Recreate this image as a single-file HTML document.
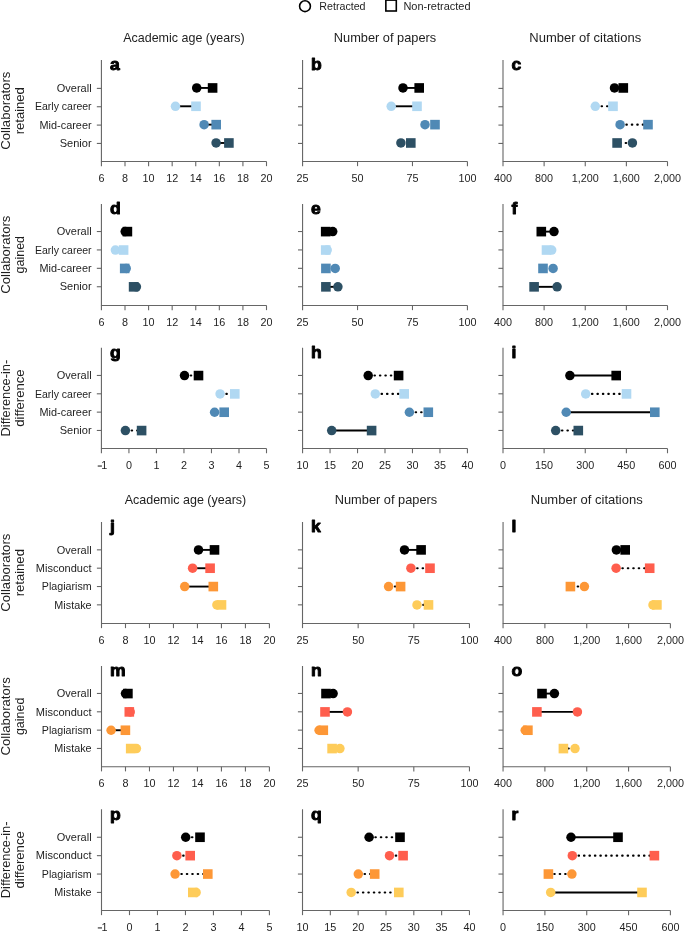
<!DOCTYPE html>
<html><head><meta charset="utf-8"><title>Figure</title>
<style>
html,body{margin:0;padding:0;background:#fff;}
body{width:685px;height:931px;overflow:hidden;}
svg{display:block;font-family:"Liberation Sans", sans-serif;-webkit-font-smoothing:antialiased;will-change:transform;}
</style></head>
<body>
<svg width="685" height="931" viewBox="0 0 685 931">
<rect width="685" height="931" fill="#fff"/>
<text transform="translate(10.2 110.72) rotate(-90)" text-anchor="middle" font-size="12.9" fill="#1e1e1e" textLength="78.22" lengthAdjust="spacingAndGlyphs">Collaborators</text>
<text transform="translate(24.2 110.72) rotate(-90)" text-anchor="middle" font-size="12.9" fill="#1e1e1e" textLength="47.22" lengthAdjust="spacingAndGlyphs">retained</text>
<text x="183.96" y="41.8" text-anchor="middle" font-size="12.6" fill="#1e1e1e" textLength="121.55" lengthAdjust="spacingAndGlyphs">Academic age (years)</text>
<text x="385" y="41.8" text-anchor="middle" font-size="12.6" fill="#1e1e1e" textLength="102.45" lengthAdjust="spacingAndGlyphs">Number of papers</text>
<text x="585.25" y="41.8" text-anchor="middle" font-size="12.6" fill="#1e1e1e" textLength="111.95" lengthAdjust="spacingAndGlyphs">Number of citations</text>
<path d="M101.42 60V161.45H266.5" fill="none" stroke="#666666" stroke-width="1.1"/>
<path d="M96.82 88.4H101.42" stroke="#666666" stroke-width="1.1"/>
<text x="91.6" y="92.1" text-anchor="end" font-size="10.6" fill="#1e1e1e" textLength="34.78" lengthAdjust="spacingAndGlyphs">Overall</text>
<path d="M96.82 106.74H101.42" stroke="#666666" stroke-width="1.1"/>
<text x="91.6" y="110.44" text-anchor="end" font-size="10.6" fill="#1e1e1e" textLength="56.64" lengthAdjust="spacingAndGlyphs">Early career</text>
<path d="M96.82 125.09H101.42" stroke="#666666" stroke-width="1.1"/>
<text x="91.6" y="128.79" text-anchor="end" font-size="10.6" fill="#1e1e1e" textLength="52.05" lengthAdjust="spacingAndGlyphs">Mid-career</text>
<path d="M96.82 143.43H101.42" stroke="#666666" stroke-width="1.1"/>
<text x="91.6" y="147.13" text-anchor="end" font-size="10.6" fill="#1e1e1e" textLength="31.84" lengthAdjust="spacingAndGlyphs">Senior</text>
<path d="M101.42 161.45V166.15" stroke="#666666" stroke-width="1.1"/>
<text x="101.42" y="181.75" text-anchor="middle" font-size="10.8" fill="#1e1e1e">6</text>
<path d="M125 161.45V166.15" stroke="#666666" stroke-width="1.1"/>
<text x="125" y="181.75" text-anchor="middle" font-size="10.8" fill="#1e1e1e">8</text>
<path d="M148.59 161.45V166.15" stroke="#666666" stroke-width="1.1"/>
<text x="148.59" y="181.75" text-anchor="middle" font-size="10.8" fill="#1e1e1e">10</text>
<path d="M172.17 161.45V166.15" stroke="#666666" stroke-width="1.1"/>
<text x="172.17" y="181.75" text-anchor="middle" font-size="10.8" fill="#1e1e1e">12</text>
<path d="M195.75 161.45V166.15" stroke="#666666" stroke-width="1.1"/>
<text x="195.75" y="181.75" text-anchor="middle" font-size="10.8" fill="#1e1e1e">14</text>
<path d="M219.33 161.45V166.15" stroke="#666666" stroke-width="1.1"/>
<text x="219.33" y="181.75" text-anchor="middle" font-size="10.8" fill="#1e1e1e">16</text>
<path d="M242.92 161.45V166.15" stroke="#666666" stroke-width="1.1"/>
<text x="242.92" y="181.75" text-anchor="middle" font-size="10.8" fill="#1e1e1e">18</text>
<path d="M266.5 161.45V166.15" stroke="#666666" stroke-width="1.1"/>
<text x="266.5" y="181.75" text-anchor="middle" font-size="10.8" fill="#1e1e1e">20</text>
<text transform="translate(109.92 70.4) scale(1.07 1)" font-size="16.4" font-weight="bold" fill="#000" stroke="#000" stroke-width="0.9" stroke-linejoin="round">a</text>
<path d="M196.7 87.95H212.6" stroke="#000" stroke-width="1.9"/>
<circle cx="196.7" cy="87.95" r="4.75" fill="#000000"/>
<rect x="207.8" y="83.15" width="9.6" height="9.6" fill="#000000"/>
<path d="M175.45 106.29H196" stroke="#000" stroke-width="1.9"/>
<circle cx="175.45" cy="106.29" r="4.75" fill="#b0d8f2"/>
<rect x="191.2" y="101.49" width="9.6" height="9.6" fill="#b0d8f2"/>
<path d="M204.1 124.64H216.2" stroke="#000" stroke-width="1.9"/>
<circle cx="204.1" cy="124.64" r="4.75" fill="#5089b5"/>
<rect x="211.4" y="119.84" width="9.6" height="9.6" fill="#5089b5"/>
<path d="M216.1 142.98H228.9" stroke="#000" stroke-width="1.9"/>
<circle cx="216.1" cy="142.98" r="4.75" fill="#2d5064"/>
<rect x="224.1" y="138.18" width="9.6" height="9.6" fill="#2d5064"/>
<path d="M302.57 60V161.45H467.44" fill="none" stroke="#666666" stroke-width="1.1"/>
<path d="M297.97 88.4H302.57" stroke="#666666" stroke-width="1.1"/>
<path d="M297.97 106.74H302.57" stroke="#666666" stroke-width="1.1"/>
<path d="M297.97 125.09H302.57" stroke="#666666" stroke-width="1.1"/>
<path d="M297.97 143.43H302.57" stroke="#666666" stroke-width="1.1"/>
<path d="M302.57 161.45V166.15" stroke="#666666" stroke-width="1.1"/>
<text x="302.57" y="181.75" text-anchor="middle" font-size="10.8" fill="#1e1e1e">25</text>
<path d="M357.53 161.45V166.15" stroke="#666666" stroke-width="1.1"/>
<text x="357.53" y="181.75" text-anchor="middle" font-size="10.8" fill="#1e1e1e">50</text>
<path d="M412.48 161.45V166.15" stroke="#666666" stroke-width="1.1"/>
<text x="412.48" y="181.75" text-anchor="middle" font-size="10.8" fill="#1e1e1e">75</text>
<path d="M467.44 161.45V166.15" stroke="#666666" stroke-width="1.1"/>
<text x="467.44" y="181.75" text-anchor="middle" font-size="10.8" fill="#1e1e1e">100</text>
<text transform="translate(311.07 70.4) scale(1.07 1)" font-size="16.4" font-weight="bold" fill="#000" stroke="#000" stroke-width="0.9" stroke-linejoin="round">b</text>
<path d="M403 87.95H419.2" stroke="#000" stroke-width="1.9"/>
<circle cx="403" cy="87.95" r="4.75" fill="#000000"/>
<rect x="414.4" y="83.15" width="9.6" height="9.6" fill="#000000"/>
<path d="M391.2 106.29H417" stroke="#000" stroke-width="1.9"/>
<circle cx="391.2" cy="106.29" r="4.75" fill="#b0d8f2"/>
<rect x="412.2" y="101.49" width="9.6" height="9.6" fill="#b0d8f2"/>
<circle cx="425" cy="124.64" r="4.75" fill="#5089b5"/>
<rect x="430.2" y="119.84" width="9.6" height="9.6" fill="#5089b5"/>
<circle cx="400.9" cy="142.98" r="4.75" fill="#2d5064"/>
<rect x="406" y="138.18" width="9.6" height="9.6" fill="#2d5064"/>
<path d="M503 60V161.45H667.5" fill="none" stroke="#666666" stroke-width="1.1"/>
<path d="M498.4 88.4H503" stroke="#666666" stroke-width="1.1"/>
<path d="M498.4 106.74H503" stroke="#666666" stroke-width="1.1"/>
<path d="M498.4 125.09H503" stroke="#666666" stroke-width="1.1"/>
<path d="M498.4 143.43H503" stroke="#666666" stroke-width="1.1"/>
<path d="M503 161.45V166.15" stroke="#666666" stroke-width="1.1"/>
<text x="503" y="181.75" text-anchor="middle" font-size="10.8" fill="#1e1e1e">400</text>
<path d="M544.12 161.45V166.15" stroke="#666666" stroke-width="1.1"/>
<text x="544.12" y="181.75" text-anchor="middle" font-size="10.8" fill="#1e1e1e">800</text>
<path d="M585.25 161.45V166.15" stroke="#666666" stroke-width="1.1"/>
<text x="585.25" y="181.75" text-anchor="middle" font-size="10.8" fill="#1e1e1e">1,200</text>
<path d="M626.38 161.45V166.15" stroke="#666666" stroke-width="1.1"/>
<text x="626.38" y="181.75" text-anchor="middle" font-size="10.8" fill="#1e1e1e">1,600</text>
<path d="M667.5 161.45V166.15" stroke="#666666" stroke-width="1.1"/>
<text x="667.5" y="181.75" text-anchor="middle" font-size="10.8" fill="#1e1e1e">2,000</text>
<text transform="translate(511.5 70.4) scale(1.07 1)" font-size="16.4" font-weight="bold" fill="#000" stroke="#000" stroke-width="0.9" stroke-linejoin="round">c</text>
<circle cx="614.5" cy="87.95" r="4.75" fill="#000000"/>
<rect x="618.5" y="83.15" width="9.6" height="9.6" fill="#000000"/>
<path d="M596.1 106.29H613" stroke="#000" stroke-width="2.1" stroke-linecap="round" stroke-dasharray="0.5 4.95"/>
<circle cx="595.3" cy="106.29" r="4.75" fill="#b0d8f2"/>
<rect x="608.2" y="101.49" width="9.6" height="9.6" fill="#b0d8f2"/>
<path d="M620.9 124.64H648" stroke="#000" stroke-width="2.1" stroke-linecap="round" stroke-dasharray="0.5 4.95"/>
<circle cx="620.1" cy="124.64" r="4.75" fill="#5089b5"/>
<rect x="643.2" y="119.84" width="9.6" height="9.6" fill="#5089b5"/>
<path d="M631.6 142.98H617.1" stroke="#000" stroke-width="2.1" stroke-linecap="round" stroke-dasharray="0.5 4.95"/>
<circle cx="632.4" cy="142.98" r="4.75" fill="#2d5064"/>
<rect x="612.3" y="138.18" width="9.6" height="9.6" fill="#2d5064"/>
<text transform="translate(10.2 254.67) rotate(-90)" text-anchor="middle" font-size="12.9" fill="#1e1e1e" textLength="78.22" lengthAdjust="spacingAndGlyphs">Collaborators</text>
<text transform="translate(24.2 254.67) rotate(-90)" text-anchor="middle" font-size="12.9" fill="#1e1e1e" textLength="37.44" lengthAdjust="spacingAndGlyphs">gained</text>
<path d="M101.42 203.9V305.44H266.5" fill="none" stroke="#666666" stroke-width="1.1"/>
<path d="M96.82 231.52H101.42" stroke="#666666" stroke-width="1.1"/>
<text x="91.6" y="235.22" text-anchor="end" font-size="10.6" fill="#1e1e1e" textLength="34.78" lengthAdjust="spacingAndGlyphs">Overall</text>
<path d="M96.82 249.93H101.42" stroke="#666666" stroke-width="1.1"/>
<text x="91.6" y="253.63" text-anchor="end" font-size="10.6" fill="#1e1e1e" textLength="56.64" lengthAdjust="spacingAndGlyphs">Early career</text>
<path d="M96.82 268.33H101.42" stroke="#666666" stroke-width="1.1"/>
<text x="91.6" y="272.03" text-anchor="end" font-size="10.6" fill="#1e1e1e" textLength="52.05" lengthAdjust="spacingAndGlyphs">Mid-career</text>
<path d="M96.82 286.74H101.42" stroke="#666666" stroke-width="1.1"/>
<text x="91.6" y="290.44" text-anchor="end" font-size="10.6" fill="#1e1e1e" textLength="31.84" lengthAdjust="spacingAndGlyphs">Senior</text>
<path d="M101.42 305.44V310.14" stroke="#666666" stroke-width="1.1"/>
<text x="101.42" y="325.74" text-anchor="middle" font-size="10.8" fill="#1e1e1e">6</text>
<path d="M125 305.44V310.14" stroke="#666666" stroke-width="1.1"/>
<text x="125" y="325.74" text-anchor="middle" font-size="10.8" fill="#1e1e1e">8</text>
<path d="M148.59 305.44V310.14" stroke="#666666" stroke-width="1.1"/>
<text x="148.59" y="325.74" text-anchor="middle" font-size="10.8" fill="#1e1e1e">10</text>
<path d="M172.17 305.44V310.14" stroke="#666666" stroke-width="1.1"/>
<text x="172.17" y="325.74" text-anchor="middle" font-size="10.8" fill="#1e1e1e">12</text>
<path d="M195.75 305.44V310.14" stroke="#666666" stroke-width="1.1"/>
<text x="195.75" y="325.74" text-anchor="middle" font-size="10.8" fill="#1e1e1e">14</text>
<path d="M219.33 305.44V310.14" stroke="#666666" stroke-width="1.1"/>
<text x="219.33" y="325.74" text-anchor="middle" font-size="10.8" fill="#1e1e1e">16</text>
<path d="M242.92 305.44V310.14" stroke="#666666" stroke-width="1.1"/>
<text x="242.92" y="325.74" text-anchor="middle" font-size="10.8" fill="#1e1e1e">18</text>
<path d="M266.5 305.44V310.14" stroke="#666666" stroke-width="1.1"/>
<text x="266.5" y="325.74" text-anchor="middle" font-size="10.8" fill="#1e1e1e">20</text>
<text transform="translate(109.92 214.3) scale(1.07 1)" font-size="16.4" font-weight="bold" fill="#000" stroke="#000" stroke-width="0.9" stroke-linejoin="round">d</text>
<circle cx="125.2" cy="231.62" r="4.75" fill="#000000"/>
<rect x="122.6" y="226.82" width="9.6" height="9.6" fill="#000000"/>
<circle cx="115.4" cy="250.03" r="4.75" fill="#b0d8f2"/>
<rect x="118.8" y="245.23" width="9.6" height="9.6" fill="#b0d8f2"/>
<circle cx="126.2" cy="268.43" r="4.75" fill="#5089b5"/>
<rect x="119.9" y="263.63" width="9.6" height="9.6" fill="#5089b5"/>
<circle cx="136.4" cy="286.84" r="4.75" fill="#2d5064"/>
<rect x="128.8" y="282.04" width="9.6" height="9.6" fill="#2d5064"/>
<path d="M302.57 203.9V305.44H467.44" fill="none" stroke="#666666" stroke-width="1.1"/>
<path d="M297.97 231.52H302.57" stroke="#666666" stroke-width="1.1"/>
<path d="M297.97 249.93H302.57" stroke="#666666" stroke-width="1.1"/>
<path d="M297.97 268.33H302.57" stroke="#666666" stroke-width="1.1"/>
<path d="M297.97 286.74H302.57" stroke="#666666" stroke-width="1.1"/>
<path d="M302.57 305.44V310.14" stroke="#666666" stroke-width="1.1"/>
<text x="302.57" y="325.74" text-anchor="middle" font-size="10.8" fill="#1e1e1e">25</text>
<path d="M357.53 305.44V310.14" stroke="#666666" stroke-width="1.1"/>
<text x="357.53" y="325.74" text-anchor="middle" font-size="10.8" fill="#1e1e1e">50</text>
<path d="M412.48 305.44V310.14" stroke="#666666" stroke-width="1.1"/>
<text x="412.48" y="325.74" text-anchor="middle" font-size="10.8" fill="#1e1e1e">75</text>
<path d="M467.44 305.44V310.14" stroke="#666666" stroke-width="1.1"/>
<text x="467.44" y="325.74" text-anchor="middle" font-size="10.8" fill="#1e1e1e">100</text>
<text transform="translate(311.07 214.3) scale(1.07 1)" font-size="16.4" font-weight="bold" fill="#000" stroke="#000" stroke-width="0.9" stroke-linejoin="round">e</text>
<circle cx="332.7" cy="231.62" r="4.75" fill="#000000"/>
<rect x="320.9" y="226.82" width="9.6" height="9.6" fill="#000000"/>
<circle cx="327.2" cy="250.03" r="4.75" fill="#b0d8f2"/>
<rect x="320.9" y="245.23" width="9.6" height="9.6" fill="#b0d8f2"/>
<circle cx="335.2" cy="268.43" r="4.75" fill="#5089b5"/>
<rect x="321.1" y="263.63" width="9.6" height="9.6" fill="#5089b5"/>
<path d="M337.9 286.84H325.9" stroke="#000" stroke-width="1.9"/>
<circle cx="337.9" cy="286.84" r="4.75" fill="#2d5064"/>
<rect x="321.1" y="282.04" width="9.6" height="9.6" fill="#2d5064"/>
<path d="M503 203.9V305.44H667.5" fill="none" stroke="#666666" stroke-width="1.1"/>
<path d="M498.4 231.52H503" stroke="#666666" stroke-width="1.1"/>
<path d="M498.4 249.93H503" stroke="#666666" stroke-width="1.1"/>
<path d="M498.4 268.33H503" stroke="#666666" stroke-width="1.1"/>
<path d="M498.4 286.74H503" stroke="#666666" stroke-width="1.1"/>
<path d="M503 305.44V310.14" stroke="#666666" stroke-width="1.1"/>
<text x="503" y="325.74" text-anchor="middle" font-size="10.8" fill="#1e1e1e">400</text>
<path d="M544.12 305.44V310.14" stroke="#666666" stroke-width="1.1"/>
<text x="544.12" y="325.74" text-anchor="middle" font-size="10.8" fill="#1e1e1e">800</text>
<path d="M585.25 305.44V310.14" stroke="#666666" stroke-width="1.1"/>
<text x="585.25" y="325.74" text-anchor="middle" font-size="10.8" fill="#1e1e1e">1,200</text>
<path d="M626.38 305.44V310.14" stroke="#666666" stroke-width="1.1"/>
<text x="626.38" y="325.74" text-anchor="middle" font-size="10.8" fill="#1e1e1e">1,600</text>
<path d="M667.5 305.44V310.14" stroke="#666666" stroke-width="1.1"/>
<text x="667.5" y="325.74" text-anchor="middle" font-size="10.8" fill="#1e1e1e">2,000</text>
<text transform="translate(511.5 214.3) scale(1.07 1)" font-size="16.4" font-weight="bold" fill="#000" stroke="#000" stroke-width="0.9" stroke-linejoin="round">f</text>
<path d="M554 231.62H541.3" stroke="#000" stroke-width="1.9"/>
<circle cx="554" cy="231.62" r="4.75" fill="#000000"/>
<rect x="536.5" y="226.82" width="9.6" height="9.6" fill="#000000"/>
<circle cx="551.7" cy="250.03" r="4.75" fill="#b0d8f2"/>
<rect x="541.7" y="245.23" width="9.6" height="9.6" fill="#b0d8f2"/>
<circle cx="553.1" cy="268.43" r="4.75" fill="#5089b5"/>
<rect x="538.2" y="263.63" width="9.6" height="9.6" fill="#5089b5"/>
<path d="M557.1 286.84H534.1" stroke="#000" stroke-width="1.9"/>
<circle cx="557.1" cy="286.84" r="4.75" fill="#2d5064"/>
<rect x="529.3" y="282.04" width="9.6" height="9.6" fill="#2d5064"/>
<text transform="translate(10.2 398.12) rotate(-90)" text-anchor="middle" font-size="12.9" fill="#1e1e1e" textLength="76.59" lengthAdjust="spacingAndGlyphs">Difference-in-</text>
<text transform="translate(24.2 398.12) rotate(-90)" text-anchor="middle" font-size="12.9" fill="#1e1e1e" textLength="57.12" lengthAdjust="spacingAndGlyphs">difference</text>
<path d="M101.42 347.7V448.54H266.5" fill="none" stroke="#666666" stroke-width="1.1"/>
<path d="M96.82 375.47H101.42" stroke="#666666" stroke-width="1.1"/>
<text x="91.6" y="379.17" text-anchor="end" font-size="10.6" fill="#1e1e1e" textLength="34.78" lengthAdjust="spacingAndGlyphs">Overall</text>
<path d="M96.82 393.8H101.42" stroke="#666666" stroke-width="1.1"/>
<text x="91.6" y="397.5" text-anchor="end" font-size="10.6" fill="#1e1e1e" textLength="56.64" lengthAdjust="spacingAndGlyphs">Early career</text>
<path d="M96.82 412.14H101.42" stroke="#666666" stroke-width="1.1"/>
<text x="91.6" y="415.84" text-anchor="end" font-size="10.6" fill="#1e1e1e" textLength="52.05" lengthAdjust="spacingAndGlyphs">Mid-career</text>
<path d="M96.82 430.47H101.42" stroke="#666666" stroke-width="1.1"/>
<text x="91.6" y="434.17" text-anchor="end" font-size="10.6" fill="#1e1e1e" textLength="31.84" lengthAdjust="spacingAndGlyphs">Senior</text>
<path d="M101.42 448.54V453.24" stroke="#666666" stroke-width="1.1"/>
<path d="M97.72 466.04H101.92" stroke="#1e1e1e" stroke-width="1.05"/>
<text x="104.32" y="468.84" text-anchor="middle" font-size="10.8" fill="#1e1e1e">1</text>
<path d="M128.93 448.54V453.24" stroke="#666666" stroke-width="1.1"/>
<text x="128.93" y="468.84" text-anchor="middle" font-size="10.8" fill="#1e1e1e">0</text>
<path d="M156.45 448.54V453.24" stroke="#666666" stroke-width="1.1"/>
<text x="156.45" y="468.84" text-anchor="middle" font-size="10.8" fill="#1e1e1e">1</text>
<path d="M183.96 448.54V453.24" stroke="#666666" stroke-width="1.1"/>
<text x="183.96" y="468.84" text-anchor="middle" font-size="10.8" fill="#1e1e1e">2</text>
<path d="M211.47 448.54V453.24" stroke="#666666" stroke-width="1.1"/>
<text x="211.47" y="468.84" text-anchor="middle" font-size="10.8" fill="#1e1e1e">3</text>
<path d="M238.99 448.54V453.24" stroke="#666666" stroke-width="1.1"/>
<text x="238.99" y="468.84" text-anchor="middle" font-size="10.8" fill="#1e1e1e">4</text>
<path d="M266.5 448.54V453.24" stroke="#666666" stroke-width="1.1"/>
<text x="266.5" y="468.84" text-anchor="middle" font-size="10.8" fill="#1e1e1e">5</text>
<text transform="translate(109.92 358.1) scale(1.07 1)" font-size="16.4" font-weight="bold" fill="#000" stroke="#000" stroke-width="0.9" stroke-linejoin="round">g</text>
<path d="M185.3 375.57H198.5" stroke="#000" stroke-width="2.1" stroke-linecap="round" stroke-dasharray="0.5 4.95"/>
<circle cx="184.5" cy="375.57" r="4.75" fill="#000000"/>
<rect x="193.7" y="370.77" width="9.6" height="9.6" fill="#000000"/>
<path d="M220.9 393.9H234.8" stroke="#000" stroke-width="2.1" stroke-linecap="round" stroke-dasharray="0.5 4.95"/>
<circle cx="220.1" cy="393.9" r="4.75" fill="#b0d8f2"/>
<rect x="230" y="389.1" width="9.6" height="9.6" fill="#b0d8f2"/>
<circle cx="214.6" cy="412.24" r="4.75" fill="#5089b5"/>
<rect x="219.4" y="407.44" width="9.6" height="9.6" fill="#5089b5"/>
<path d="M126.2 430.57H141.6" stroke="#000" stroke-width="2.1" stroke-linecap="round" stroke-dasharray="0.5 4.95"/>
<circle cx="125.4" cy="430.57" r="4.75" fill="#2d5064"/>
<rect x="136.8" y="425.77" width="9.6" height="9.6" fill="#2d5064"/>
<path d="M302.57 347.7V448.54H467.44" fill="none" stroke="#666666" stroke-width="1.1"/>
<path d="M297.97 375.47H302.57" stroke="#666666" stroke-width="1.1"/>
<path d="M297.97 393.8H302.57" stroke="#666666" stroke-width="1.1"/>
<path d="M297.97 412.14H302.57" stroke="#666666" stroke-width="1.1"/>
<path d="M297.97 430.47H302.57" stroke="#666666" stroke-width="1.1"/>
<path d="M302.57 448.54V453.24" stroke="#666666" stroke-width="1.1"/>
<text x="302.57" y="468.84" text-anchor="middle" font-size="10.8" fill="#1e1e1e">10</text>
<path d="M330.05 448.54V453.24" stroke="#666666" stroke-width="1.1"/>
<text x="330.05" y="468.84" text-anchor="middle" font-size="10.8" fill="#1e1e1e">15</text>
<path d="M357.53 448.54V453.24" stroke="#666666" stroke-width="1.1"/>
<text x="357.53" y="468.84" text-anchor="middle" font-size="10.8" fill="#1e1e1e">20</text>
<path d="M385 448.54V453.24" stroke="#666666" stroke-width="1.1"/>
<text x="385" y="468.84" text-anchor="middle" font-size="10.8" fill="#1e1e1e">25</text>
<path d="M412.48 448.54V453.24" stroke="#666666" stroke-width="1.1"/>
<text x="412.48" y="468.84" text-anchor="middle" font-size="10.8" fill="#1e1e1e">30</text>
<path d="M439.96 448.54V453.24" stroke="#666666" stroke-width="1.1"/>
<text x="439.96" y="468.84" text-anchor="middle" font-size="10.8" fill="#1e1e1e">35</text>
<path d="M467.44 448.54V453.24" stroke="#666666" stroke-width="1.1"/>
<text x="467.44" y="468.84" text-anchor="middle" font-size="10.8" fill="#1e1e1e">40</text>
<text transform="translate(311.07 358.1) scale(1.07 1)" font-size="16.4" font-weight="bold" fill="#000" stroke="#000" stroke-width="0.9" stroke-linejoin="round">h</text>
<path d="M369 375.57H398.6" stroke="#000" stroke-width="2.1" stroke-linecap="round" stroke-dasharray="0.5 4.95"/>
<circle cx="368.2" cy="375.57" r="4.75" fill="#000000"/>
<rect x="393.8" y="370.77" width="9.6" height="9.6" fill="#000000"/>
<path d="M376.1 393.9H404.2" stroke="#000" stroke-width="2.1" stroke-linecap="round" stroke-dasharray="0.5 4.95"/>
<circle cx="375.3" cy="393.9" r="4.75" fill="#b0d8f2"/>
<rect x="399.4" y="389.1" width="9.6" height="9.6" fill="#b0d8f2"/>
<path d="M410.2 412.24H428.3" stroke="#000" stroke-width="2.1" stroke-linecap="round" stroke-dasharray="0.5 4.95"/>
<circle cx="409.4" cy="412.24" r="4.75" fill="#5089b5"/>
<rect x="423.5" y="407.44" width="9.6" height="9.6" fill="#5089b5"/>
<path d="M331.7 430.57H371.6" stroke="#000" stroke-width="1.9"/>
<circle cx="331.7" cy="430.57" r="4.75" fill="#2d5064"/>
<rect x="366.8" y="425.77" width="9.6" height="9.6" fill="#2d5064"/>
<path d="M503 347.7V448.54H667.5" fill="none" stroke="#666666" stroke-width="1.1"/>
<path d="M498.4 375.47H503" stroke="#666666" stroke-width="1.1"/>
<path d="M498.4 393.8H503" stroke="#666666" stroke-width="1.1"/>
<path d="M498.4 412.14H503" stroke="#666666" stroke-width="1.1"/>
<path d="M498.4 430.47H503" stroke="#666666" stroke-width="1.1"/>
<path d="M503 448.54V453.24" stroke="#666666" stroke-width="1.1"/>
<text x="503" y="468.84" text-anchor="middle" font-size="10.8" fill="#1e1e1e">0</text>
<path d="M544.12 448.54V453.24" stroke="#666666" stroke-width="1.1"/>
<text x="544.12" y="468.84" text-anchor="middle" font-size="10.8" fill="#1e1e1e">150</text>
<path d="M585.25 448.54V453.24" stroke="#666666" stroke-width="1.1"/>
<text x="585.25" y="468.84" text-anchor="middle" font-size="10.8" fill="#1e1e1e">300</text>
<path d="M626.38 448.54V453.24" stroke="#666666" stroke-width="1.1"/>
<text x="626.38" y="468.84" text-anchor="middle" font-size="10.8" fill="#1e1e1e">450</text>
<path d="M667.5 448.54V453.24" stroke="#666666" stroke-width="1.1"/>
<text x="667.5" y="468.84" text-anchor="middle" font-size="10.8" fill="#1e1e1e">600</text>
<text transform="translate(511.5 358.1) scale(1.07 1)" font-size="16.4" font-weight="bold" fill="#000" stroke="#000" stroke-width="0.9" stroke-linejoin="round">i</text>
<path d="M569.9 375.57H616.2" stroke="#000" stroke-width="1.9"/>
<circle cx="569.9" cy="375.57" r="4.75" fill="#000000"/>
<rect x="611.4" y="370.77" width="9.6" height="9.6" fill="#000000"/>
<path d="M586.5 393.9H626.5" stroke="#000" stroke-width="2.1" stroke-linecap="round" stroke-dasharray="0.5 4.95"/>
<circle cx="585.7" cy="393.9" r="4.75" fill="#b0d8f2"/>
<rect x="621.7" y="389.1" width="9.6" height="9.6" fill="#b0d8f2"/>
<path d="M566.2 412.24H654.8" stroke="#000" stroke-width="1.9"/>
<circle cx="566.2" cy="412.24" r="4.75" fill="#5089b5"/>
<rect x="650" y="407.44" width="9.6" height="9.6" fill="#5089b5"/>
<path d="M556.5 430.57H578.3" stroke="#000" stroke-width="2.1" stroke-linecap="round" stroke-dasharray="0.5 4.95"/>
<circle cx="555.7" cy="430.57" r="4.75" fill="#2d5064"/>
<rect x="573.5" y="425.77" width="9.6" height="9.6" fill="#2d5064"/>
<text transform="translate(10.2 572.71) rotate(-90)" text-anchor="middle" font-size="12.9" fill="#1e1e1e" textLength="78.22" lengthAdjust="spacingAndGlyphs">Collaborators</text>
<text transform="translate(24.2 572.71) rotate(-90)" text-anchor="middle" font-size="12.9" fill="#1e1e1e" textLength="47.22" lengthAdjust="spacingAndGlyphs">retained</text>
<text x="185.46" y="503.8" text-anchor="middle" font-size="12.6" fill="#1e1e1e" textLength="121.55" lengthAdjust="spacingAndGlyphs">Academic age (years)</text>
<text x="385.99" y="503.8" text-anchor="middle" font-size="12.6" fill="#1e1e1e" textLength="102.45" lengthAdjust="spacingAndGlyphs">Number of papers</text>
<text x="586.73" y="503.8" text-anchor="middle" font-size="12.6" fill="#1e1e1e" textLength="111.95" lengthAdjust="spacingAndGlyphs">Number of citations</text>
<path d="M101.5 522V623.43H269.42" fill="none" stroke="#666666" stroke-width="1.1"/>
<path d="M96.9 549.85H101.5" stroke="#666666" stroke-width="1.1"/>
<text x="91.6" y="553.55" text-anchor="end" font-size="10.6" fill="#1e1e1e" textLength="34.78" lengthAdjust="spacingAndGlyphs">Overall</text>
<path d="M96.9 568.18H101.5" stroke="#666666" stroke-width="1.1"/>
<text x="91.6" y="571.88" text-anchor="end" font-size="10.6" fill="#1e1e1e" textLength="55.81" lengthAdjust="spacingAndGlyphs">Misconduct</text>
<path d="M96.9 586.52H101.5" stroke="#666666" stroke-width="1.1"/>
<text x="91.6" y="590.22" text-anchor="end" font-size="10.6" fill="#1e1e1e" textLength="49.78" lengthAdjust="spacingAndGlyphs">Plagiarism</text>
<path d="M96.9 604.85H101.5" stroke="#666666" stroke-width="1.1"/>
<text x="91.6" y="608.55" text-anchor="end" font-size="10.6" fill="#1e1e1e" textLength="37.22" lengthAdjust="spacingAndGlyphs">Mistake</text>
<path d="M101.5 623.43V628.13" stroke="#666666" stroke-width="1.1"/>
<text x="101.5" y="643.73" text-anchor="middle" font-size="10.8" fill="#1e1e1e">6</text>
<path d="M125.49 623.43V628.13" stroke="#666666" stroke-width="1.1"/>
<text x="125.49" y="643.73" text-anchor="middle" font-size="10.8" fill="#1e1e1e">8</text>
<path d="M149.48 623.43V628.13" stroke="#666666" stroke-width="1.1"/>
<text x="149.48" y="643.73" text-anchor="middle" font-size="10.8" fill="#1e1e1e">10</text>
<path d="M173.47 623.43V628.13" stroke="#666666" stroke-width="1.1"/>
<text x="173.47" y="643.73" text-anchor="middle" font-size="10.8" fill="#1e1e1e">12</text>
<path d="M197.45 623.43V628.13" stroke="#666666" stroke-width="1.1"/>
<text x="197.45" y="643.73" text-anchor="middle" font-size="10.8" fill="#1e1e1e">14</text>
<path d="M221.44 623.43V628.13" stroke="#666666" stroke-width="1.1"/>
<text x="221.44" y="643.73" text-anchor="middle" font-size="10.8" fill="#1e1e1e">16</text>
<path d="M245.43 623.43V628.13" stroke="#666666" stroke-width="1.1"/>
<text x="245.43" y="643.73" text-anchor="middle" font-size="10.8" fill="#1e1e1e">18</text>
<path d="M269.42 623.43V628.13" stroke="#666666" stroke-width="1.1"/>
<text x="269.42" y="643.73" text-anchor="middle" font-size="10.8" fill="#1e1e1e">20</text>
<text transform="translate(110 532.4) scale(1.07 1)" font-size="16.4" font-weight="bold" fill="#000" stroke="#000" stroke-width="0.9" stroke-linejoin="round">j</text>
<path d="M198.5 549.9H214.5" stroke="#000" stroke-width="1.9"/>
<circle cx="198.5" cy="549.9" r="4.75" fill="#000000"/>
<rect x="209.7" y="545.1" width="9.6" height="9.6" fill="#000000"/>
<path d="M192.6 568.23H210.1" stroke="#000" stroke-width="1.9"/>
<circle cx="192.6" cy="568.23" r="4.75" fill="#ff5e4d"/>
<rect x="205.3" y="563.43" width="9.6" height="9.6" fill="#ff5e4d"/>
<path d="M184.7 586.57H213.3" stroke="#000" stroke-width="1.9"/>
<circle cx="184.7" cy="586.57" r="4.75" fill="#fd9736"/>
<rect x="208.5" y="581.77" width="9.6" height="9.6" fill="#fd9736"/>
<circle cx="216.9" cy="604.9" r="4.75" fill="#fecc5a"/>
<rect x="216.7" y="600.1" width="9.6" height="9.6" fill="#fecc5a"/>
<path d="M302.51 522V623.43H469.46" fill="none" stroke="#666666" stroke-width="1.1"/>
<path d="M297.91 549.85H302.51" stroke="#666666" stroke-width="1.1"/>
<path d="M297.91 568.18H302.51" stroke="#666666" stroke-width="1.1"/>
<path d="M297.91 586.52H302.51" stroke="#666666" stroke-width="1.1"/>
<path d="M297.91 604.85H302.51" stroke="#666666" stroke-width="1.1"/>
<path d="M302.51 623.43V628.13" stroke="#666666" stroke-width="1.1"/>
<text x="302.51" y="643.73" text-anchor="middle" font-size="10.8" fill="#1e1e1e">25</text>
<path d="M358.16 623.43V628.13" stroke="#666666" stroke-width="1.1"/>
<text x="358.16" y="643.73" text-anchor="middle" font-size="10.8" fill="#1e1e1e">50</text>
<path d="M413.81 623.43V628.13" stroke="#666666" stroke-width="1.1"/>
<text x="413.81" y="643.73" text-anchor="middle" font-size="10.8" fill="#1e1e1e">75</text>
<path d="M469.46 623.43V628.13" stroke="#666666" stroke-width="1.1"/>
<text x="469.46" y="643.73" text-anchor="middle" font-size="10.8" fill="#1e1e1e">100</text>
<text transform="translate(311.01 532.4) scale(1.07 1)" font-size="16.4" font-weight="bold" fill="#000" stroke="#000" stroke-width="0.9" stroke-linejoin="round">k</text>
<path d="M404.5 549.9H421.1" stroke="#000" stroke-width="1.9"/>
<circle cx="404.5" cy="549.9" r="4.75" fill="#000000"/>
<rect x="416.3" y="545.1" width="9.6" height="9.6" fill="#000000"/>
<path d="M411.7 568.23H430" stroke="#000" stroke-width="2.1" stroke-linecap="round" stroke-dasharray="0.5 4.95"/>
<circle cx="410.9" cy="568.23" r="4.75" fill="#ff5e4d"/>
<rect x="425.2" y="563.43" width="9.6" height="9.6" fill="#ff5e4d"/>
<path d="M389.4 586.57H400.6" stroke="#000" stroke-width="2.1" stroke-linecap="round" stroke-dasharray="0.5 4.95"/>
<circle cx="388.6" cy="586.57" r="4.75" fill="#fd9736"/>
<rect x="395.8" y="581.77" width="9.6" height="9.6" fill="#fd9736"/>
<path d="M417.8 604.9H428.5" stroke="#000" stroke-width="2.1" stroke-linecap="round" stroke-dasharray="0.5 4.95"/>
<circle cx="417" cy="604.9" r="4.75" fill="#fecc5a"/>
<rect x="423.7" y="600.1" width="9.6" height="9.6" fill="#fecc5a"/>
<path d="M503.06 522V623.43H670.4" fill="none" stroke="#666666" stroke-width="1.1"/>
<path d="M498.46 549.85H503.06" stroke="#666666" stroke-width="1.1"/>
<path d="M498.46 568.18H503.06" stroke="#666666" stroke-width="1.1"/>
<path d="M498.46 586.52H503.06" stroke="#666666" stroke-width="1.1"/>
<path d="M498.46 604.85H503.06" stroke="#666666" stroke-width="1.1"/>
<path d="M503.06 623.43V628.13" stroke="#666666" stroke-width="1.1"/>
<text x="503.06" y="643.73" text-anchor="middle" font-size="10.8" fill="#1e1e1e">400</text>
<path d="M544.89 623.43V628.13" stroke="#666666" stroke-width="1.1"/>
<text x="544.89" y="643.73" text-anchor="middle" font-size="10.8" fill="#1e1e1e">800</text>
<path d="M586.73 623.43V628.13" stroke="#666666" stroke-width="1.1"/>
<text x="586.73" y="643.73" text-anchor="middle" font-size="10.8" fill="#1e1e1e">1,200</text>
<path d="M628.56 623.43V628.13" stroke="#666666" stroke-width="1.1"/>
<text x="628.56" y="643.73" text-anchor="middle" font-size="10.8" fill="#1e1e1e">1,600</text>
<path d="M670.4 623.43V628.13" stroke="#666666" stroke-width="1.1"/>
<text x="670.4" y="643.73" text-anchor="middle" font-size="10.8" fill="#1e1e1e">2,000</text>
<text transform="translate(511.56 532.4) scale(1.07 1)" font-size="16.4" font-weight="bold" fill="#000" stroke="#000" stroke-width="0.9" stroke-linejoin="round">l</text>
<circle cx="616.4" cy="549.9" r="4.75" fill="#000000"/>
<rect x="620.4" y="545.1" width="9.6" height="9.6" fill="#000000"/>
<path d="M616.9 568.23H649.7" stroke="#000" stroke-width="2.1" stroke-linecap="round" stroke-dasharray="0.5 4.95"/>
<circle cx="616.1" cy="568.23" r="4.75" fill="#ff5e4d"/>
<rect x="644.9" y="563.43" width="9.6" height="9.6" fill="#ff5e4d"/>
<path d="M583.6 586.57H570.4" stroke="#000" stroke-width="2.1" stroke-linecap="round" stroke-dasharray="0.5 4.95"/>
<circle cx="584.4" cy="586.57" r="4.75" fill="#fd9736"/>
<rect x="565.6" y="581.77" width="9.6" height="9.6" fill="#fd9736"/>
<circle cx="653" cy="604.9" r="4.75" fill="#fecc5a"/>
<rect x="652.1" y="600.1" width="9.6" height="9.6" fill="#fecc5a"/>
<text transform="translate(10.2 716.34) rotate(-90)" text-anchor="middle" font-size="12.9" fill="#1e1e1e" textLength="78.22" lengthAdjust="spacingAndGlyphs">Collaborators</text>
<text transform="translate(24.2 716.34) rotate(-90)" text-anchor="middle" font-size="12.9" fill="#1e1e1e" textLength="37.44" lengthAdjust="spacingAndGlyphs">gained</text>
<path d="M101.5 666V766.68H269.42" fill="none" stroke="#666666" stroke-width="1.1"/>
<path d="M96.9 693.47H101.5" stroke="#666666" stroke-width="1.1"/>
<text x="91.6" y="697.17" text-anchor="end" font-size="10.6" fill="#1e1e1e" textLength="34.78" lengthAdjust="spacingAndGlyphs">Overall</text>
<path d="M96.9 711.8H101.5" stroke="#666666" stroke-width="1.1"/>
<text x="91.6" y="715.5" text-anchor="end" font-size="10.6" fill="#1e1e1e" textLength="55.81" lengthAdjust="spacingAndGlyphs">Misconduct</text>
<path d="M96.9 730.14H101.5" stroke="#666666" stroke-width="1.1"/>
<text x="91.6" y="733.84" text-anchor="end" font-size="10.6" fill="#1e1e1e" textLength="49.78" lengthAdjust="spacingAndGlyphs">Plagiarism</text>
<path d="M96.9 748.47H101.5" stroke="#666666" stroke-width="1.1"/>
<text x="91.6" y="752.17" text-anchor="end" font-size="10.6" fill="#1e1e1e" textLength="37.22" lengthAdjust="spacingAndGlyphs">Mistake</text>
<path d="M101.5 766.68V771.38" stroke="#666666" stroke-width="1.1"/>
<text x="101.5" y="786.98" text-anchor="middle" font-size="10.8" fill="#1e1e1e">6</text>
<path d="M125.49 766.68V771.38" stroke="#666666" stroke-width="1.1"/>
<text x="125.49" y="786.98" text-anchor="middle" font-size="10.8" fill="#1e1e1e">8</text>
<path d="M149.48 766.68V771.38" stroke="#666666" stroke-width="1.1"/>
<text x="149.48" y="786.98" text-anchor="middle" font-size="10.8" fill="#1e1e1e">10</text>
<path d="M173.47 766.68V771.38" stroke="#666666" stroke-width="1.1"/>
<text x="173.47" y="786.98" text-anchor="middle" font-size="10.8" fill="#1e1e1e">12</text>
<path d="M197.45 766.68V771.38" stroke="#666666" stroke-width="1.1"/>
<text x="197.45" y="786.98" text-anchor="middle" font-size="10.8" fill="#1e1e1e">14</text>
<path d="M221.44 766.68V771.38" stroke="#666666" stroke-width="1.1"/>
<text x="221.44" y="786.98" text-anchor="middle" font-size="10.8" fill="#1e1e1e">16</text>
<path d="M245.43 766.68V771.38" stroke="#666666" stroke-width="1.1"/>
<text x="245.43" y="786.98" text-anchor="middle" font-size="10.8" fill="#1e1e1e">18</text>
<path d="M269.42 766.68V771.38" stroke="#666666" stroke-width="1.1"/>
<text x="269.42" y="786.98" text-anchor="middle" font-size="10.8" fill="#1e1e1e">20</text>
<text transform="translate(110 676.4) scale(1.07 1)" font-size="16.4" font-weight="bold" fill="#000" stroke="#000" stroke-width="0.9" stroke-linejoin="round">m</text>
<circle cx="125.5" cy="693.57" r="4.75" fill="#000000"/>
<rect x="123.1" y="688.77" width="9.6" height="9.6" fill="#000000"/>
<circle cx="130.2" cy="711.9" r="4.75" fill="#ff5e4d"/>
<rect x="124.5" y="707.1" width="9.6" height="9.6" fill="#ff5e4d"/>
<path d="M111.1 730.24H125.4" stroke="#000" stroke-width="1.9"/>
<circle cx="111.1" cy="730.24" r="4.75" fill="#fd9736"/>
<rect x="120.6" y="725.44" width="9.6" height="9.6" fill="#fd9736"/>
<circle cx="136.4" cy="748.57" r="4.75" fill="#fecc5a"/>
<rect x="125.9" y="743.77" width="9.6" height="9.6" fill="#fecc5a"/>
<path d="M302.51 666V766.68H469.46" fill="none" stroke="#666666" stroke-width="1.1"/>
<path d="M297.91 693.47H302.51" stroke="#666666" stroke-width="1.1"/>
<path d="M297.91 711.8H302.51" stroke="#666666" stroke-width="1.1"/>
<path d="M297.91 730.14H302.51" stroke="#666666" stroke-width="1.1"/>
<path d="M297.91 748.47H302.51" stroke="#666666" stroke-width="1.1"/>
<path d="M302.51 766.68V771.38" stroke="#666666" stroke-width="1.1"/>
<text x="302.51" y="786.98" text-anchor="middle" font-size="10.8" fill="#1e1e1e">25</text>
<path d="M358.16 766.68V771.38" stroke="#666666" stroke-width="1.1"/>
<text x="358.16" y="786.98" text-anchor="middle" font-size="10.8" fill="#1e1e1e">50</text>
<path d="M413.81 766.68V771.38" stroke="#666666" stroke-width="1.1"/>
<text x="413.81" y="786.98" text-anchor="middle" font-size="10.8" fill="#1e1e1e">75</text>
<path d="M469.46 766.68V771.38" stroke="#666666" stroke-width="1.1"/>
<text x="469.46" y="786.98" text-anchor="middle" font-size="10.8" fill="#1e1e1e">100</text>
<text transform="translate(311.01 676.4) scale(1.07 1)" font-size="16.4" font-weight="bold" fill="#000" stroke="#000" stroke-width="0.9" stroke-linejoin="round">n</text>
<circle cx="333.1" cy="693.57" r="4.75" fill="#000000"/>
<rect x="321.2" y="688.77" width="9.6" height="9.6" fill="#000000"/>
<path d="M347.4 711.9H325" stroke="#000" stroke-width="1.9"/>
<circle cx="347.4" cy="711.9" r="4.75" fill="#ff5e4d"/>
<rect x="320.2" y="707.1" width="9.6" height="9.6" fill="#ff5e4d"/>
<circle cx="319.1" cy="730.24" r="4.75" fill="#fd9736"/>
<rect x="318.5" y="725.44" width="9.6" height="9.6" fill="#fd9736"/>
<circle cx="339.9" cy="748.57" r="4.75" fill="#fecc5a"/>
<rect x="327.3" y="743.77" width="9.6" height="9.6" fill="#fecc5a"/>
<path d="M503.06 666V766.68H670.4" fill="none" stroke="#666666" stroke-width="1.1"/>
<path d="M498.46 693.47H503.06" stroke="#666666" stroke-width="1.1"/>
<path d="M498.46 711.8H503.06" stroke="#666666" stroke-width="1.1"/>
<path d="M498.46 730.14H503.06" stroke="#666666" stroke-width="1.1"/>
<path d="M498.46 748.47H503.06" stroke="#666666" stroke-width="1.1"/>
<path d="M503.06 766.68V771.38" stroke="#666666" stroke-width="1.1"/>
<text x="503.06" y="786.98" text-anchor="middle" font-size="10.8" fill="#1e1e1e">400</text>
<path d="M544.89 766.68V771.38" stroke="#666666" stroke-width="1.1"/>
<text x="544.89" y="786.98" text-anchor="middle" font-size="10.8" fill="#1e1e1e">800</text>
<path d="M586.73 766.68V771.38" stroke="#666666" stroke-width="1.1"/>
<text x="586.73" y="786.98" text-anchor="middle" font-size="10.8" fill="#1e1e1e">1,200</text>
<path d="M628.56 766.68V771.38" stroke="#666666" stroke-width="1.1"/>
<text x="628.56" y="786.98" text-anchor="middle" font-size="10.8" fill="#1e1e1e">1,600</text>
<path d="M670.4 766.68V771.38" stroke="#666666" stroke-width="1.1"/>
<text x="670.4" y="786.98" text-anchor="middle" font-size="10.8" fill="#1e1e1e">2,000</text>
<text transform="translate(511.56 676.4) scale(1.07 1)" font-size="16.4" font-weight="bold" fill="#000" stroke="#000" stroke-width="0.9" stroke-linejoin="round">o</text>
<path d="M554.4 693.57H542" stroke="#000" stroke-width="1.9"/>
<circle cx="554.4" cy="693.57" r="4.75" fill="#000000"/>
<rect x="537.2" y="688.77" width="9.6" height="9.6" fill="#000000"/>
<path d="M577.4 711.9H536.9" stroke="#000" stroke-width="1.9"/>
<circle cx="577.4" cy="711.9" r="4.75" fill="#ff5e4d"/>
<rect x="532.1" y="707.1" width="9.6" height="9.6" fill="#ff5e4d"/>
<circle cx="525.2" cy="730.24" r="4.75" fill="#fd9736"/>
<rect x="523.1" y="725.44" width="9.6" height="9.6" fill="#fd9736"/>
<path d="M574.2 748.57H563.4" stroke="#000" stroke-width="2.1" stroke-linecap="round" stroke-dasharray="0.5 4.95"/>
<circle cx="575" cy="748.57" r="4.75" fill="#fecc5a"/>
<rect x="558.6" y="743.77" width="9.6" height="9.6" fill="#fecc5a"/>
<text transform="translate(10.2 859.89) rotate(-90)" text-anchor="middle" font-size="12.9" fill="#1e1e1e" textLength="76.59" lengthAdjust="spacingAndGlyphs">Difference-in-</text>
<text transform="translate(24.2 859.89) rotate(-90)" text-anchor="middle" font-size="12.9" fill="#1e1e1e" textLength="57.12" lengthAdjust="spacingAndGlyphs">difference</text>
<path d="M101.5 809.35V910.43H269.42" fill="none" stroke="#666666" stroke-width="1.1"/>
<path d="M96.9 837.26H101.5" stroke="#666666" stroke-width="1.1"/>
<text x="91.6" y="840.96" text-anchor="end" font-size="10.6" fill="#1e1e1e" textLength="34.78" lengthAdjust="spacingAndGlyphs">Overall</text>
<path d="M96.9 855.65H101.5" stroke="#666666" stroke-width="1.1"/>
<text x="91.6" y="859.35" text-anchor="end" font-size="10.6" fill="#1e1e1e" textLength="55.81" lengthAdjust="spacingAndGlyphs">Misconduct</text>
<path d="M96.9 874.05H101.5" stroke="#666666" stroke-width="1.1"/>
<text x="91.6" y="877.75" text-anchor="end" font-size="10.6" fill="#1e1e1e" textLength="49.78" lengthAdjust="spacingAndGlyphs">Plagiarism</text>
<path d="M96.9 892.44H101.5" stroke="#666666" stroke-width="1.1"/>
<text x="91.6" y="896.14" text-anchor="end" font-size="10.6" fill="#1e1e1e" textLength="37.22" lengthAdjust="spacingAndGlyphs">Mistake</text>
<path d="M101.5 910.43V915.13" stroke="#666666" stroke-width="1.1"/>
<path d="M97.8 927.93H102" stroke="#1e1e1e" stroke-width="1.05"/>
<text x="104.4" y="930.73" text-anchor="middle" font-size="10.8" fill="#1e1e1e">1</text>
<path d="M129.49 910.43V915.13" stroke="#666666" stroke-width="1.1"/>
<text x="129.49" y="930.73" text-anchor="middle" font-size="10.8" fill="#1e1e1e">0</text>
<path d="M157.47 910.43V915.13" stroke="#666666" stroke-width="1.1"/>
<text x="157.47" y="930.73" text-anchor="middle" font-size="10.8" fill="#1e1e1e">1</text>
<path d="M185.46 910.43V915.13" stroke="#666666" stroke-width="1.1"/>
<text x="185.46" y="930.73" text-anchor="middle" font-size="10.8" fill="#1e1e1e">2</text>
<path d="M213.45 910.43V915.13" stroke="#666666" stroke-width="1.1"/>
<text x="213.45" y="930.73" text-anchor="middle" font-size="10.8" fill="#1e1e1e">3</text>
<path d="M241.43 910.43V915.13" stroke="#666666" stroke-width="1.1"/>
<text x="241.43" y="930.73" text-anchor="middle" font-size="10.8" fill="#1e1e1e">4</text>
<path d="M269.42 910.43V915.13" stroke="#666666" stroke-width="1.1"/>
<text x="269.42" y="930.73" text-anchor="middle" font-size="10.8" fill="#1e1e1e">5</text>
<text transform="translate(110 819.75) scale(1.07 1)" font-size="16.4" font-weight="bold" fill="#000" stroke="#000" stroke-width="0.9" stroke-linejoin="round">p</text>
<path d="M186.5 837.26H200" stroke="#000" stroke-width="2.1" stroke-linecap="round" stroke-dasharray="0.5 4.95"/>
<circle cx="185.7" cy="837.26" r="4.75" fill="#000000"/>
<rect x="195.2" y="832.46" width="9.6" height="9.6" fill="#000000"/>
<path d="M177.7 855.65H190.2" stroke="#000" stroke-width="2.1" stroke-linecap="round" stroke-dasharray="0.5 4.95"/>
<circle cx="176.9" cy="855.65" r="4.75" fill="#ff5e4d"/>
<rect x="185.4" y="850.85" width="9.6" height="9.6" fill="#ff5e4d"/>
<path d="M175.9 874.05H207.8" stroke="#000" stroke-width="2.1" stroke-linecap="round" stroke-dasharray="0.5 4.95"/>
<circle cx="175.1" cy="874.05" r="4.75" fill="#fd9736"/>
<rect x="203" y="869.25" width="9.6" height="9.6" fill="#fd9736"/>
<circle cx="196.1" cy="892.44" r="4.75" fill="#fecc5a"/>
<rect x="188" y="887.64" width="9.6" height="9.6" fill="#fecc5a"/>
<path d="M302.51 809.35V910.43H469.46" fill="none" stroke="#666666" stroke-width="1.1"/>
<path d="M297.91 837.26H302.51" stroke="#666666" stroke-width="1.1"/>
<path d="M297.91 855.65H302.51" stroke="#666666" stroke-width="1.1"/>
<path d="M297.91 874.05H302.51" stroke="#666666" stroke-width="1.1"/>
<path d="M297.91 892.44H302.51" stroke="#666666" stroke-width="1.1"/>
<path d="M302.51 910.43V915.13" stroke="#666666" stroke-width="1.1"/>
<text x="302.51" y="930.73" text-anchor="middle" font-size="10.8" fill="#1e1e1e">10</text>
<path d="M330.33 910.43V915.13" stroke="#666666" stroke-width="1.1"/>
<text x="330.33" y="930.73" text-anchor="middle" font-size="10.8" fill="#1e1e1e">15</text>
<path d="M358.16 910.43V915.13" stroke="#666666" stroke-width="1.1"/>
<text x="358.16" y="930.73" text-anchor="middle" font-size="10.8" fill="#1e1e1e">20</text>
<path d="M385.99 910.43V915.13" stroke="#666666" stroke-width="1.1"/>
<text x="385.99" y="930.73" text-anchor="middle" font-size="10.8" fill="#1e1e1e">25</text>
<path d="M413.81 910.43V915.13" stroke="#666666" stroke-width="1.1"/>
<text x="413.81" y="930.73" text-anchor="middle" font-size="10.8" fill="#1e1e1e">30</text>
<path d="M441.63 910.43V915.13" stroke="#666666" stroke-width="1.1"/>
<text x="441.63" y="930.73" text-anchor="middle" font-size="10.8" fill="#1e1e1e">35</text>
<path d="M469.46 910.43V915.13" stroke="#666666" stroke-width="1.1"/>
<text x="469.46" y="930.73" text-anchor="middle" font-size="10.8" fill="#1e1e1e">40</text>
<text transform="translate(311.01 819.75) scale(1.07 1)" font-size="16.4" font-weight="bold" fill="#000" stroke="#000" stroke-width="0.9" stroke-linejoin="round">q</text>
<path d="M369.9 837.26H400" stroke="#000" stroke-width="2.1" stroke-linecap="round" stroke-dasharray="0.5 4.95"/>
<circle cx="369.1" cy="837.26" r="4.75" fill="#000000"/>
<rect x="395.2" y="832.46" width="9.6" height="9.6" fill="#000000"/>
<path d="M390.3 855.65H403.1" stroke="#000" stroke-width="2.1" stroke-linecap="round" stroke-dasharray="0.5 4.95"/>
<circle cx="389.5" cy="855.65" r="4.75" fill="#ff5e4d"/>
<rect x="398.3" y="850.85" width="9.6" height="9.6" fill="#ff5e4d"/>
<path d="M359.1 874.05H374.7" stroke="#000" stroke-width="2.1" stroke-linecap="round" stroke-dasharray="0.5 4.95"/>
<circle cx="358.3" cy="874.05" r="4.75" fill="#fd9736"/>
<rect x="369.9" y="869.25" width="9.6" height="9.6" fill="#fd9736"/>
<path d="M352 892.44H398.8" stroke="#000" stroke-width="2.1" stroke-linecap="round" stroke-dasharray="0.5 4.95"/>
<circle cx="351.2" cy="892.44" r="4.75" fill="#fecc5a"/>
<rect x="394" y="887.64" width="9.6" height="9.6" fill="#fecc5a"/>
<path d="M503.06 809.35V910.43H670.4" fill="none" stroke="#666666" stroke-width="1.1"/>
<path d="M498.46 837.26H503.06" stroke="#666666" stroke-width="1.1"/>
<path d="M498.46 855.65H503.06" stroke="#666666" stroke-width="1.1"/>
<path d="M498.46 874.05H503.06" stroke="#666666" stroke-width="1.1"/>
<path d="M498.46 892.44H503.06" stroke="#666666" stroke-width="1.1"/>
<path d="M503.06 910.43V915.13" stroke="#666666" stroke-width="1.1"/>
<text x="503.06" y="930.73" text-anchor="middle" font-size="10.8" fill="#1e1e1e">0</text>
<path d="M544.89 910.43V915.13" stroke="#666666" stroke-width="1.1"/>
<text x="544.89" y="930.73" text-anchor="middle" font-size="10.8" fill="#1e1e1e">150</text>
<path d="M586.73 910.43V915.13" stroke="#666666" stroke-width="1.1"/>
<text x="586.73" y="930.73" text-anchor="middle" font-size="10.8" fill="#1e1e1e">300</text>
<path d="M628.56 910.43V915.13" stroke="#666666" stroke-width="1.1"/>
<text x="628.56" y="930.73" text-anchor="middle" font-size="10.8" fill="#1e1e1e">450</text>
<path d="M670.4 910.43V915.13" stroke="#666666" stroke-width="1.1"/>
<text x="670.4" y="930.73" text-anchor="middle" font-size="10.8" fill="#1e1e1e">600</text>
<text transform="translate(511.56 819.75) scale(1.07 1)" font-size="16.4" font-weight="bold" fill="#000" stroke="#000" stroke-width="0.9" stroke-linejoin="round">r</text>
<path d="M571 837.26H618" stroke="#000" stroke-width="1.9"/>
<circle cx="571" cy="837.26" r="4.75" fill="#000000"/>
<rect x="613.2" y="832.46" width="9.6" height="9.6" fill="#000000"/>
<path d="M573.1 855.65H654.4" stroke="#000" stroke-width="2.1" stroke-linecap="round" stroke-dasharray="0.5 4.95"/>
<circle cx="572.3" cy="855.65" r="4.75" fill="#ff5e4d"/>
<rect x="649.6" y="850.85" width="9.6" height="9.6" fill="#ff5e4d"/>
<path d="M571.1 874.05H548.4" stroke="#000" stroke-width="2.1" stroke-linecap="round" stroke-dasharray="0.5 4.95"/>
<circle cx="571.9" cy="874.05" r="4.75" fill="#fd9736"/>
<rect x="543.6" y="869.25" width="9.6" height="9.6" fill="#fd9736"/>
<path d="M550.7 892.44H642" stroke="#000" stroke-width="1.9"/>
<circle cx="550.7" cy="892.44" r="4.75" fill="#fecc5a"/>
<rect x="637.2" y="887.64" width="9.6" height="9.6" fill="#fecc5a"/>
<circle cx="305" cy="6.2" r="5.4" fill="none" stroke="#000" stroke-width="1.6"/>
<text x="319.3" y="9.9" font-size="10.6" fill="#1e1e1e" textLength="46.26" lengthAdjust="spacingAndGlyphs">Retracted</text>
<rect x="385.85" y="0.1" width="10.45" height="10.9" fill="none" stroke="#000" stroke-width="1.6"/>
<text x="403.4" y="9.9" font-size="10.6" fill="#1e1e1e" textLength="67.21" lengthAdjust="spacingAndGlyphs">Non-retracted</text>
</svg>
</body></html>
